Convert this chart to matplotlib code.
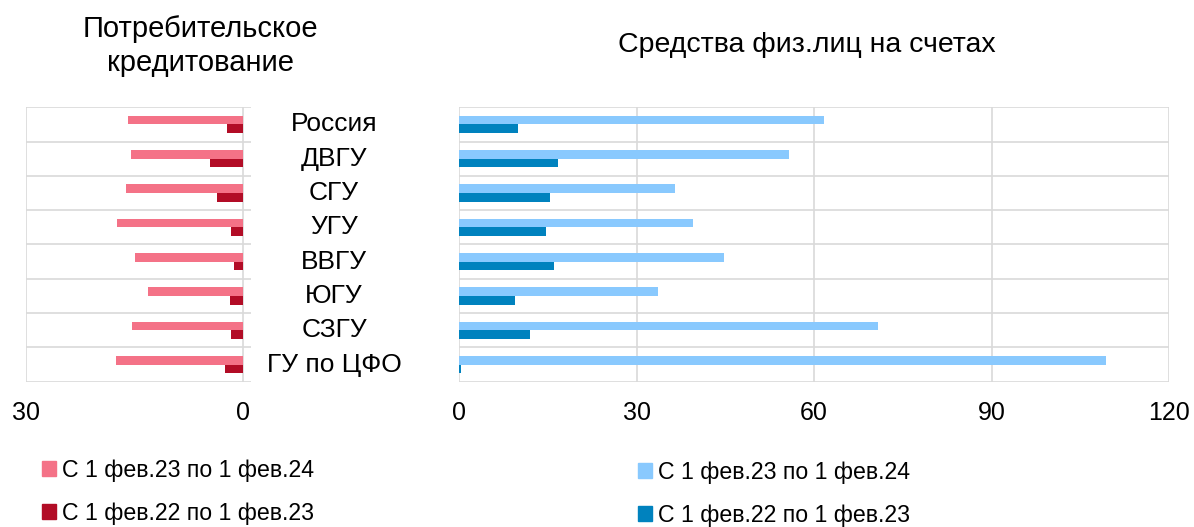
import matplotlib.pyplot as plt
import numpy as np
from matplotlib.patches import Patch
from matplotlib.transforms import blended_transform_factory

plt.rcParams['font.family'] = ['Liberation Sans', 'DejaVu Sans']

# Data
regions = ["Россия", "ДВГУ", "СГУ", "УГУ", "ВВГУ", "ЮГУ", "СЗГУ", "ГУ по ЦФО"]
credit_23_24 = [15.9, 15.5, 16.2, 17.4, 15.0, 13.1, 15.4, 17.6]
credit_22_23 = [2.2, 4.6, 3.6, 1.6, 1.3, 1.8, 1.6, 2.5]
funds_23_24 = [61.7, 55.7, 36.5, 39.5, 44.8, 33.7, 70.8, 109.4]
funds_22_23 = [10.0, 16.7, 15.3, 14.7, 16.0, 9.4, 12.0, 0.4]
label_23_24 = "С 1 фев.23 по 1 фев.24"
label_22_23 = "С 1 фев.22 по 1 фев.23"

# colors
pink = "#F47287"
dark_red = "#B20C26"
light_blue = "#89C9FE"
dark_blue = "#0082BE"
grid_col = "#D9D9D9"

W, H = 1194, 527
fig = plt.figure(figsize=(W / 100, H / 100), dpi=100)

top, bottom = 107.3, 381.7
ax_l = fig.add_axes([26 / W, 1 - bottom / H, (251 - 26) / W, (bottom - top) / H])
ax_r = fig.add_axes([459 / W, 1 - bottom / H, (1169 - 459) / W, (bottom - top) / H])

y = np.arange(len(regions))
bh = 0.25

# left panel (reversed axis)
ax_l.barh(y - bh / 2, credit_23_24, height=bh, color=pink, zorder=3)
ax_l.barh(y + bh / 2, credit_22_23, height=bh, color=dark_red, zorder=3)
ax_l.set_xlim(30, -1.1)
ax_l.set_xticks([30, 0])

# right panel
ax_r.barh(y - bh / 2, funds_23_24, height=bh, color=light_blue, zorder=3)
ax_r.barh(y + bh / 2, funds_22_23, height=bh, color=dark_blue, zorder=3)
ax_r.set_xlim(0, 120)
ax_r.set_xticks([0, 30, 60, 90, 120])

for ax in (ax_l, ax_r):
    ax.set_ylim(len(regions) - 0.5, -0.5)
    ax.set_yticks([])
    for b in np.arange(len(regions) + 1) - 0.5:
        ax.axhline(b, color=grid_col, lw=1.2, zorder=1)
    for s in ax.spines.values():
        s.set_visible(False)
    ax.tick_params(axis='x', length=0, labelsize=18, pad=14)

for v in [30, 0]:
    ax_l.axvline(v, color=grid_col, lw=1.2, zorder=1)
for v in [0, 30, 60, 90, 120]:
    ax_r.axvline(v, color=grid_col, lw=1.2, zorder=1)

# category labels between panels
trans = blended_transform_factory(fig.transFigure, ax_r.transData)
for i, name in enumerate(regions):
    ax_r.text(334 / W, i, name, transform=trans, ha='center', va='center', fontsize=19)

# titles
fig.text(200 / W, 1 - 46 / H, "Потребительское\nкредитование", ha='center', va='center',
         fontsize=21, linespacing=1.3)
fig.text(807 / W, 1 - 45 / H, "Средства физ.лиц на счетах", ha='center', va='center', fontsize=20.5)

# legends
lg_kw = dict(frameon=False, fontsize=16.7, handlelength=0.6, handleheight=0.6,
             handletextpad=0.25, labelspacing=0.85, borderpad=0, borderaxespad=0,
             loc='upper left')
fig.legend(handles=[Patch(color=pink, label=label_23_24), Patch(color=dark_red, label=label_22_23)],
           bbox_to_anchor=(42 / W, 1 - 459 / H), **lg_kw)
fig.legend(handles=[Patch(color=light_blue, label=label_23_24), Patch(color=dark_blue, label=label_22_23)],
           bbox_to_anchor=(638 / W, 1 - 461 / H), **lg_kw)

fig.savefig("out.png", dpi=100)
